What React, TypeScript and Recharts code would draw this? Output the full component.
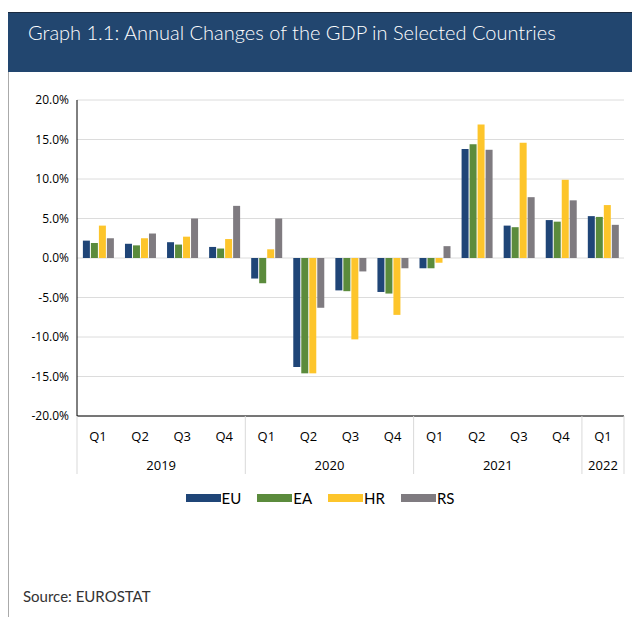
import { BarChart, Bar, XAxis, YAxis, CartesianGrid, Legend } from 'recharts';

const quarters = ['Q1', 'Q2', 'Q3', 'Q4', 'Q1', 'Q2', 'Q3', 'Q4', 'Q1', 'Q2', 'Q3', 'Q4', 'Q1'];
const years = ['2019', '2019', '2019', '2019', '2020', '2020', '2020', '2020', '2021', '2021', '2021', '2021', '2022'];

const eu = [2.2, 1.8, 2.0, 1.4, -2.6, -13.8, -4.1, -4.3, -1.3, 13.8, 4.1, 4.8, 5.3];
const ea = [1.9, 1.6, 1.7, 1.2, -3.2, -14.6, -4.2, -4.5, -1.3, 14.4, 3.9, 4.6, 5.2];
const hr = [4.1, 2.5, 2.7, 2.4, 1.1, -14.6, -10.3, -7.2, -0.6, 16.9, 14.6, 9.9, 6.7];
const rs = [2.5, 3.1, 5.0, 6.6, 5.0, -6.3, -1.7, -1.3, 1.5, 13.7, 7.7, 7.3, 4.2];

const yTicks = [-20, -15, -10, -5, 0, 5, 10, 15, 20];

const series = [
  { key: 'EU', color: '#1f4577' },
  { key: 'EA', color: '#5b8b3c' },
  { key: 'HR', color: '#fdc52b' },
  { key: 'RS', color: '#7f7b80' },
];

const data = quarters.map((q, i) => ({
  q,
  year: years[i],
  EU: eu[i],
  EA: ea[i],
  HR: hr[i],
  RS: rs[i],
}));

const FONT = '"Open Sans", sans-serif';
const HEAD_FONT = 'Lato, sans-serif';

const QuarterTick = (props: any) => {
  const { x, y, payload, width } = props;
  const i = payload.index;
  const step = width ? width / quarters.length : 42;
  const top = y - 8;
  const sepLen = 58;
  const lines = [];
  if (i === 0 || years[i] !== years[i - 1]) {
    lines.push(<line key="l" x1={x - step / 2} x2={x - step / 2} y1={top} y2={top + sepLen} stroke="#d9d9d9" />);
  }
  if (i === quarters.length - 1) {
    lines.push(<line key="r" x1={x + step / 2} x2={x + step / 2} y1={top} y2={top + sepLen} stroke="#d9d9d9" />);
  }
  return (
    <g>
      {lines}
      <text x={x} y={y + 8} dy="0.71em" textAnchor="middle" fontSize={13} fill="#000" fontFamily={FONT}>
        {payload.value}
      </text>
    </g>
  );
};

const YearTick = (props: any) => {
  const { x, y, payload, width } = props;
  const i = payload.index;
  if (i !== 0 && years[i] === years[i - 1]) return <g />;
  const step = width ? width / quarters.length : 42;
  const n = years.filter((yr) => yr === years[i]).length;
  return (
    <text x={x + ((n - 1) * step) / 2} y={y + 9} dy="0.71em" textAnchor="middle" fontSize={13} fill="#000" fontFamily={FONT}>
      {years[i]}
    </text>
  );
};

const LegendContent = () => (
  <div style={{ display: 'flex', justifyContent: 'center', gap: 16, paddingLeft: 8, fontFamily: HEAD_FONT, fontSize: 15, color: '#000' }}>
    {series.map((s) => (
      <div key={s.key} style={{ display: 'flex', alignItems: 'center' }}>
        <span style={{ display: 'inline-block', width: 35, height: 8, background: s.color }} />
        <span style={{ marginLeft: 1 }}>{s.key}</span>
      </div>
    ))}
  </div>
);

export default function App() {
  return (
    <div style={{ position: 'relative', width: 632, height: 609, background: '#fff' }}>
      <div
        style={{
          position: 'absolute',
          top: 4,
          left: 0,
          width: 632,
          height: 60,
          background: '#22466f',
          borderTop: '1px solid #1a2a40',
          boxSizing: 'border-box',
        }}
      >
        <div style={{ position: 'absolute', left: 20, top: 7, color: '#fff', fontFamily: HEAD_FONT, fontSize: 20, fontWeight: 300 }}>
          Graph 1.1: Annual Changes of the GDP in Selected Countries
        </div>
      </div>
      <div style={{ position: 'absolute', left: 0, top: 64, width: 1, height: 545, background: '#aaa' }} />
      <div style={{ position: 'absolute', top: 80, left: 0 }}>
        <BarChart
          width={632}
          height={429}
          data={data}
          margin={{ top: 12, right: 16, left: 0, bottom: 10 }}
          barCategoryGap="14%"
          barGap={1}
        >
          <CartesianGrid vertical={false} stroke="#dcdcdc" />
          <XAxis
            dataKey="q"
            interval={0}
            axisLine={{ stroke: '#000' }}
            tickLine={false}
            height={28}
            tick={<QuarterTick />}
          />
          <XAxis
            xAxisId="year"
            dataKey="q"
            interval={0}
            axisLine={false}
            tickLine={false}
            height={45}
            tick={<YearTick />}
          />
          <XAxis xAxisId="top" dataKey="q" orientation="top" height={0} tick={false} tickLine={false} axisLine={{ stroke: '#000' }} />
          <YAxis
            domain={[-20, 20]}
            ticks={yTicks}
            interval={0}
            width={69}
            axisLine={{ stroke: '#000' }}
            tickLine={false}
            tick={{ fontSize: 12, fill: '#000', fontFamily: FONT }}
            tickFormatter={(v: number) => `${v.toFixed(1)}%`}
          />
          <YAxis yAxisId="right" orientation="right" domain={[-20, 20]} width={0} tick={false} tickLine={false} axisLine={{ stroke: '#000' }} />
          <Legend verticalAlign="bottom" content={<LegendContent />} />
          {series.map((s) => (
            <Bar key={s.key} dataKey={s.key} fill={s.color} isAnimationActive={false} />
          ))}
        </BarChart>
      </div>
      <div style={{ position: 'absolute', left: 15, top: 579, fontFamily: HEAD_FONT, fontSize: 15, color: '#333' }}>
        Source: EUROSTAT
      </div>
    </div>
  );
}
